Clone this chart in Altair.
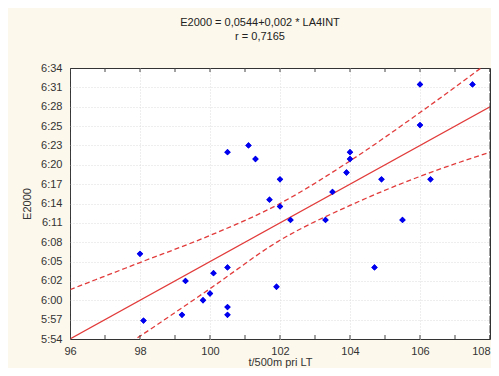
import altair as alt
import pandas as pd

# scatter points (x: t/500m pri LT, y: E2000 as fraction of a day)
x_vals = [100.5, 101.1, 101.3, 102.0, 101.7, 102.0, 106.0, 107.5, 106.0, 104.0,
          104.0, 103.9, 104.9, 106.3, 103.5, 98.0, 98.1, 99.3, 99.2, 99.8,
          100.0, 100.1, 100.5, 100.5, 100.5, 101.9, 102.3, 103.3, 105.5, 104.7]
y_vals = [0.2653, 0.2660, 0.2646, 0.2625, 0.2604, 0.2597, 0.2723, 0.2723, 0.2681, 0.2653,
          0.2646, 0.2632, 0.2625, 0.2625, 0.2612, 0.2548, 0.2479, 0.2520, 0.2485, 0.2500,
          0.2507, 0.2528, 0.2534, 0.2493, 0.2485, 0.2514, 0.2583, 0.2583, 0.2583, 0.2534]

# fitted line ends
reg_x = [96, 108]
reg_y = [0.2460, 0.2700]

# confidence band
band_x = [96, 98, 100, 102, 104, 106, 108]
band_upper = [0.2511, 0.2539, 0.2567, 0.2600, 0.2644, 0.2694, 0.2747]
band_lower = [0.2417, 0.2463, 0.2512, 0.2562, 0.2598, 0.2628, 0.2653]

x_ticks = [96, 98, 100, 102, 104, 106, 108]
y_ticks = [0.246, 0.248, 0.250, 0.252, 0.254, 0.256, 0.258, 0.260,
           0.262, 0.264, 0.266, 0.268, 0.270, 0.272, 0.274]
# frame tick marks (major + minor)
x_frame_ticks = [96, 97, 98, 99, 100, 101, 102, 103, 104, 105, 106, 107, 108]
y_frame_ticks = [0.246, 0.247, 0.248, 0.249, 0.250, 0.251, 0.252, 0.253, 0.254, 0.255,
                 0.256, 0.257, 0.258, 0.259, 0.260, 0.261, 0.262, 0.263, 0.264, 0.265,
                 0.266, 0.267, 0.268, 0.269, 0.270, 0.271, 0.272, 0.273, 0.274]

pts = pd.DataFrame({"x": x_vals, "y": y_vals})
reg_df = pd.DataFrame({"x": reg_x, "y": reg_y})
band = pd.DataFrame({"x": band_x, "upper": band_upper, "lower": band_lower})
xft = pd.DataFrame({"x": x_frame_ticks})
yft = pd.DataFrame({"y": y_frame_ticks})

FONT = "Liberation Sans"
RED = "#e23b3b"

xscale = alt.Scale(domain=[96, 108], nice=False, zero=False)
yscale = alt.Scale(domain=[0.246, 0.274], nice=False, zero=False)

xaxis = alt.Axis(values=x_ticks, tickCount=len(x_ticks), title="t/500m pri LT", grid=True,
                 gridColor="#dcdcdc", gridDash=[1, 2], ticks=False, domain=False,
                 gridOpacity=alt.condition("datum.value <= 96 || datum.value >= 108",
                                           alt.value(0), alt.value(1)),
                 labelPadding=6, labelOverlap=False, labelFont=FONT, titleFont=FONT,
                 labelFontSize=11, titleFontSize=11, titleFontWeight="normal",
                 labelColor="#333", titleColor="#333", titlePadding=0,
                 labelAlign=alt.condition("datum.value == 108", alt.value("right"),
                                          alt.value("center")))
ylabel = ("floor(floor(datum.value*1440+0.0001)/60) + ':' + "
          "(floor(datum.value*1440+0.0001)%60 < 10 ? '0' : '') + floor(datum.value*1440+0.0001)%60")
yaxis = alt.Axis(values=y_ticks, tickCount=len(y_ticks), title="E2000", grid=True,
                 gridColor="#dcdcdc", gridDash=[1, 2], ticks=False, domain=False,
                 gridOpacity=alt.condition("datum.value <= 0.2461 || datum.value >= 0.2739",
                                           alt.value(0), alt.value(1)),
                 labelPadding=8, labelOverlap=False, labelExpr=ylabel, labelFont=FONT,
                 titleFont=FONT, labelFontSize=11, titleFontSize=11,
                 titleFontWeight="normal", labelColor="#333", titleColor="#333",
                 titlePadding=8)

points = alt.Chart(pts).mark_point(shape="diamond", filled=True, color="#0000ee",
                                   size=40, opacity=1).encode(
    x=alt.X("x:Q", scale=xscale, axis=xaxis),
    y=alt.Y("y:Q", scale=yscale, axis=yaxis),
)

reg = alt.Chart(reg_df).mark_line(color=RED, strokeWidth=1.2, clip=True).encode(
    x=alt.X("x:Q", scale=xscale), y=alt.Y("y:Q", scale=yscale))

upper = alt.Chart(band).mark_line(color=RED, strokeWidth=1.3, strokeDash=[5, 3],
                                  interpolate="monotone", clip=True).encode(
    x=alt.X("x:Q", scale=xscale), y=alt.Y("upper:Q", scale=yscale))
lower = alt.Chart(band).mark_line(color=RED, strokeWidth=1.3, strokeDash=[5, 3],
                                  interpolate="monotone", clip=True).encode(
    x=alt.X("x:Q", scale=xscale), y=alt.Y("lower:Q", scale=yscale))

tick_style = dict(color="#444", thickness=1, size=8, clip=True, opacity=1)
xt_bottom = alt.Chart(xft).mark_tick(**tick_style).encode(
    x=alt.X("x:Q", scale=xscale), y=alt.datum(0.246, scale=yscale))
xt_top = alt.Chart(xft).mark_tick(**tick_style).encode(
    x=alt.X("x:Q", scale=xscale), y=alt.datum(0.274, scale=yscale))
yt_left = alt.Chart(yft).mark_tick(**tick_style).encode(
    y=alt.Y("y:Q", scale=yscale), x=alt.datum(96, scale=xscale))
yt_right = alt.Chart(yft).mark_tick(**tick_style).encode(
    y=alt.Y("y:Q", scale=yscale), x=alt.datum(108, scale=xscale))

chart = alt.layer(points, upper, lower, reg, xt_bottom, xt_top, yt_left, yt_right,
                  points).properties(
    width=420, height=271,
    title=alt.Title(["E2000 = 0,0544+0,002 * LA4INT", "r = 0,7165"], fontSize=11,
                    fontWeight="normal", font=FONT, color="#222", anchor="middle",
                    dx=-20, offset=20, lineHeight=14),
    autosize=alt.AutoSizeParams(type="none"),
    padding={"left": 62, "top": 60, "right": 1, "bottom": 29},
    background="#fcf8eb",
).configure_view(stroke="#333", strokeWidth=1, fill="white")

chart.save("out.html", embed_options={"renderer": "svg", "actions": False})
